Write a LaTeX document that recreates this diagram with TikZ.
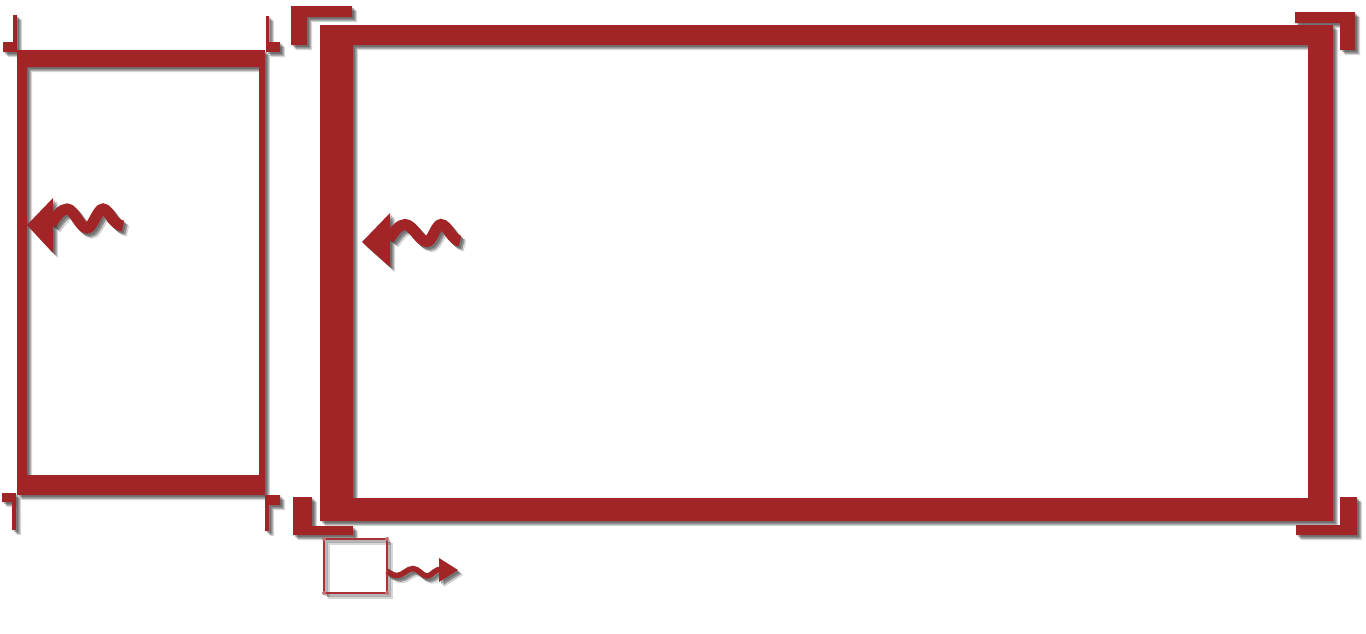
\documentclass[tikz,border=0pt]{standalone}
\definecolor{frred}{RGB}{161,37,39}
\definecolor{sqred}{RGB}{170,50,52}
\definecolor{shcol}{RGB}{50,50,50}
\newcommand\drawall[2]{%
  % left frame
  \fill[#1,even odd rule] (17,50) -- (265,50) -- (265,495) -- (17,495) -- cycle
        (27,67) -- (27,475) -- (259,475) -- (259,67) -- cycle;
  % big frame
  \fill[#1,even odd rule] (320,25) -- (1333,25) -- (1333,521) -- (320,521) -- cycle
        (353,45) -- (353,498) -- (1308,498) -- (1308,45) -- cycle;
  % left frame ticks
  \fill[#1] (13,15) -- (17,15) -- (17,52) -- (3,52) -- (3,42) -- (13,42) -- cycle;
  \fill[#1] (266,16) -- (269,16) -- (269,42) -- (280,42) -- (280,52) -- (266,52) -- cycle;
  \fill[#1] (2,493) -- (16,493) -- (16,530) -- (12,530) -- (12,502) -- (2,502) -- cycle;
  \fill[#1] (265,495) -- (280,495) -- (280,505) -- (269,505) -- (269,531) -- (265,531) -- cycle;
  % big frame brackets
  \fill[#1] (291,6) -- (352,6) -- (352,17) -- (307,17) -- (307,45) -- (291,45) -- cycle;
  \fill[#1] (1295,12) -- (1355,12) -- (1355,50) -- (1340,50) -- (1340,23) -- (1295,23) -- cycle;
  \fill[#1] (1340,497) -- (1357,497) -- (1357,535) -- (1296,535) -- (1296,525) -- (1340,525) -- cycle;
  \fill[#1] (293,497) -- (312,497) -- (312,526) -- (353,526) -- (353,535) -- (293,535) -- cycle;
  % arrow heads
  \fill[#1] (27,225) -- (53,198) -- (53,253) -- cycle;
  \fill[#1] (362,242) -- (390,213) -- (390,267) -- cycle;
  \fill[#1] (458,570) -- (439,558) -- (439,582) -- cycle;
  % waves
  \draw[#1,line width=11pt] (51,224) sin (67,209) cos (77,218.5) sin (87,228) cos (95,218.5)
        sin (103,209) cos (112,218.5) sin (123,226);
  \draw[#1,line width=11pt] (389,239) sin (405,224.5) cos (416,233) sin (427,241.5) cos (434,233)
        sin (441,224.5) cos (450,233) sin (460,241);
  \draw[#1,line width=5.5pt] (387,571) sin (397,575.5) cos (405,572) sin (413,568.5) cos (420,572)
        sin (427,576) cos (434,572) sin (441,569);
  % small square
  \draw[#2,line width=1.8pt] (324,539) rectangle (387,593);
}
\begin{document}
\begin{tikzpicture}[x=1pt,y=-1pt]
  \useasboundingbox (0,0) rectangle (1366,633);
  \begin{scope}[shift={(5,5)},opacity=0.2]\drawall{shcol}{shcol}\end{scope}
  \begin{scope}[shift={(3.5,3.5)},opacity=0.4]\drawall{shcol}{shcol}\end{scope}
  \begin{scope}[shift={(2,2)},opacity=0.35]\drawall{shcol}{shcol}\end{scope}
  \drawall{frred}{sqred}
  \foreach \p [count=\i] in {(324,539),(387,539),(387,593),(324,593)}
    \fill[sqred!70] \p circle (2);
\end{tikzpicture}
\end{document}
